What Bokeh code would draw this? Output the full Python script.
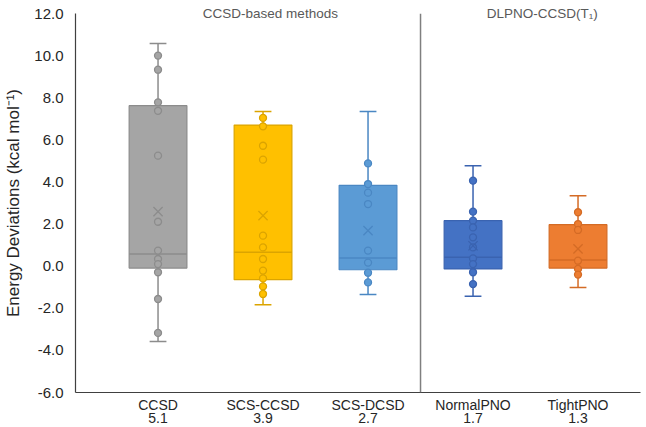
from bokeh.plotting import figure
from bokeh.models import FixedTicker, Span, NumeralTickFormatter, Range1d, LinearAxis
from bokeh.embed import file_html
from bokeh.resources import INLINE

methods = ["CCSD", "SCS-CCSD", "SCS-DCSD", "NormalPNO", "TightPNO"]
sub_values = ["5.1", "3.9", "2.7", "1.7", "1.3"]

whisker_high = [10.58, 7.34, 7.34, 4.77, 3.35]
q3 = [7.62, 6.70, 3.84, 2.16, 1.97]
median = [0.58, 0.66, 0.39, 0.42, 0.29]
q1 = [-0.09, -0.64, -0.17, -0.13, -0.09]
whisker_low = [-3.58, -1.83, -1.35, -1.43, -1.01]
mean = [2.59, 2.40, 1.69, 0.97, 0.82]

points_ccsd = [10.0, 9.33, 7.78, 7.38, 5.25, 2.11, 0.74, 0.34, 0.10, -0.29, -1.56, -3.17]
points_scs_ccsd = [7.04, 6.64, 5.72, 5.06, 1.45, 0.89, 0.34, -0.21, -0.58, -0.96, -1.32]
points_scs_dcsd = [4.88, 3.90, 3.49, 2.95, 0.74, 0.17, -0.31, -0.77]
points_normal = [4.06, 2.59, 2.16, 1.84, 1.37, 0.89, 0.37, 0.10, -0.29, -0.85]
points_tight = [2.56, 2.00, 1.72, 0.26, -0.13, -0.40]
all_points = [points_ccsd, points_scs_ccsd, points_scs_dcsd, points_normal, points_tight]

fills = ["#A5A5A5", "#FFC000", "#5B9BD5", "#4472C4", "#ED7D31"]
lines = ["#8C8C8C", "#DBA400", "#4A87C3", "#3A63B0", "#D46B25"]

group_labels = ["CCSD-based methods", "DLPNO-CCSD(T\u2081)"]
group_centers = [2.07, 4.66]

xs = list(range(1, len(methods) + 1))
box_w = 0.55
cap_w = 0.16
FONT = "Liberation Sans"

p = figure(width=646, height=427, output_backend="svg", toolbar_location=None,
           x_range=Range1d(0.214, 5.595), y_range=Range1d(-6, 12),
           min_border_left=75, min_border_right=6, min_border_top=13, min_border_bottom=35)
p.outline_line_color = None
p.xgrid.grid_line_color = None
p.ygrid.grid_line_color = None
p.background_fill_color = "white"

# whiskers
p.segment(x0=xs, y0=q3, x1=xs, y1=whisker_high, line_color=lines, line_width=1.5)
p.segment(x0=xs, y0=q1, x1=xs, y1=whisker_low, line_color=lines, line_width=1.5)
p.segment(x0=[x - cap_w / 2 for x in xs], y0=whisker_high, x1=[x + cap_w / 2 for x in xs], y1=whisker_high,
          line_color=lines, line_width=1.5)
p.segment(x0=[x - cap_w / 2 for x in xs], y0=whisker_low, x1=[x + cap_w / 2 for x in xs], y1=whisker_low,
          line_color=lines, line_width=1.5)

# boxes
p.vbar(x=xs, width=box_w, top=q3, bottom=q1, fill_color=fills, line_color=lines, line_width=1.2)
p.segment(x0=[x - box_w / 2 for x in xs], y0=median, x1=[x + box_w / 2 for x in xs], y1=median,
          line_color=lines, line_width=1.5)

# points
px, py, pf, pl = [], [], [], []
for i, pts in enumerate(all_points):
    for v in pts:
        px.append(xs[i]); py.append(v); pf.append(fills[i]); pl.append(lines[i])
p.scatter(px, py, marker="circle", size=7, fill_color=pf, line_color=pl, line_width=1.3)

# means
p.scatter(xs, mean, marker="x", size=13, line_color=lines, line_width=1.3)

# divider
p.add_layout(Span(location=3.5, dimension="height", line_color="#7F7F7F", line_width=1.5))


def strip_ticks(ax):
    ax.major_tick_line_color = None
    ax.minor_tick_line_color = None
    ax.major_tick_out = 0
    ax.major_tick_in = 0
    ax.minor_tick_out = 0
    ax.minor_tick_in = 0


# x axis: method names
p.xaxis.ticker = FixedTicker(ticks=xs)
p.xaxis.major_label_overrides = {x: m for x, m in zip(xs, methods)}
strip_ticks(p.xaxis[0])
p.xaxis.axis_line_color = "#404040"
p.xaxis.axis_line_width = 1.2
p.xaxis.major_label_text_font = FONT
p.xaxis.major_label_text_font_size = "14px"
p.xaxis.major_label_text_color = "#262626"
p.xaxis.major_label_standoff = 4

# second row: values
val_axis = LinearAxis(ticker=FixedTicker(ticks=xs),
                      major_label_overrides={x: s for x, s in zip(xs, sub_values)})
strip_ticks(val_axis)
val_axis.axis_line_color = None
val_axis.major_label_text_font = FONT
val_axis.major_label_text_font_size = "14px"
val_axis.major_label_text_color = "#262626"
val_axis.major_label_standoff = -3
p.add_layout(val_axis, "below")

# group labels on top
top_axis = LinearAxis(ticker=FixedTicker(ticks=group_centers),
                      major_label_overrides={g: t for g, t in zip(group_centers, group_labels)})
strip_ticks(top_axis)
top_axis.axis_line_color = None
top_axis.major_label_text_font = FONT
top_axis.major_label_text_font_size = "13.5px"
top_axis.major_label_text_color = "#595959"
top_axis.major_label_standoff = -7
p.add_layout(top_axis, "above")

# y axis
p.yaxis.ticker = FixedTicker(ticks=list(range(-6, 13, 2)))
p.yaxis.formatter = NumeralTickFormatter(format="0.0")
strip_ticks(p.yaxis[0])
p.yaxis.axis_line_color = "#404040"
p.yaxis.axis_line_width = 1.2
p.yaxis.major_label_text_font = FONT
p.yaxis.major_label_text_font_size = "15px"
p.yaxis.major_label_text_color = "#262626"
p.yaxis.major_label_standoff = 12
p.yaxis.axis_label = "Energy Deviations (kcal mol\u207b\u00b9)"
p.yaxis.axis_label_text_font = FONT
p.yaxis.axis_label_text_font_size = "17px"
p.yaxis.axis_label_text_font_style = "normal"
p.yaxis.axis_label_text_color = "#262626"
p.yaxis.axis_label_standoff = 8

open("out.html", "w").write(file_html(p, INLINE))
